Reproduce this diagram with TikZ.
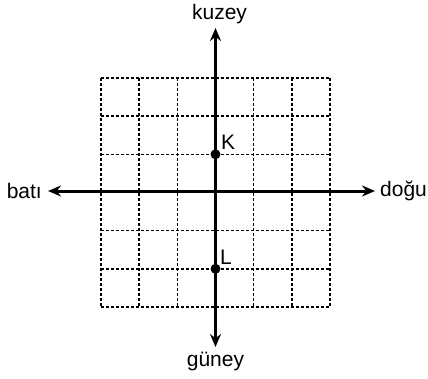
\documentclass[tikz,border=0pt]{standalone}
\usepackage{fontspec}
\setmainfont{Liberation Sans}
\usetikzlibrary{arrows.meta}
\begin{document}
\begin{tikzpicture}[x=1pt,y=1pt,
  gridline/.style={line width=1.5pt, dash pattern=on 3pt off 2pt},
  axis/.style={line width=3pt, {Stealth[length=13pt,width=11pt]}-{Stealth[length=13pt,width=11pt]}},
  lbl/.style={font=\fontsize{21}{25}\selectfont, inner sep=0pt},
  dot/.style={circle, fill=black, inner sep=0pt, minimum size=10pt}]
\useasboundingbox (0,0) rectangle (428,378);
\foreach \i in {0,...,6} {
  \draw[gridline] ({101+\i*38.17},300) -- ({101+\i*38.17},71);
  \draw[gridline] (101,{300-\i*38.17}) -- (330,{300-\i*38.17});
}
\coordinate (N) at (215.5,350);
\coordinate (S) at (215.5,31);
\coordinate (W) at (48,187);
\coordinate (E) at (375,187);
\draw[axis] (W) -- (E);
\draw[axis] (S) -- (N);
\node[lbl] (kuzey) at (219.5,364) {kuzey};
\node[lbl] (guney) at (215.5,17) {güney};
\node[lbl, anchor=east] (bati) at (42,187) {batı};
\node[lbl, anchor=west] (dogu) at (380,187) {doğu};
\node[dot] (K) at (215.5,223.7) {};
\node[dot] (L) at (215.5,109.2) {};
\node[lbl, anchor=south west] (Klbl) at (221,228) {K};
\node[lbl, anchor=south west] (Llbl) at (220,113) {L};
\end{tikzpicture}
\end{document}
